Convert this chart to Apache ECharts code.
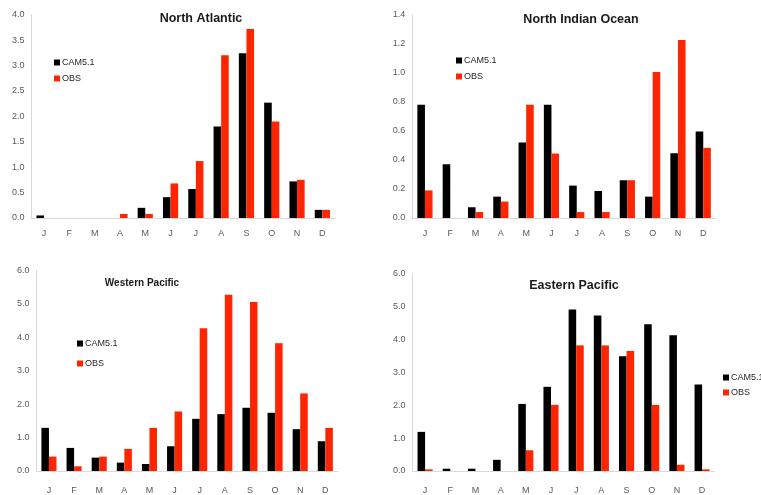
<!DOCTYPE html>
<html><head><meta charset="utf-8">
<script src="https://cdn.jsdelivr.net/npm/echarts@6/dist/echarts.min.js"></script>
<style>html,body{margin:0;padding:0;background:#fff}#c{width:761px;height:495px}</style>
</head><body><div id="c"></div>
<script>
const months = ['J','F','M','A','M','J','J','A','S','O','N','D'];
const seriesNames = ['CAM5.1','OBS'];
const panelTitles = ['North Atlantic','North Indian Ocean','Western Pacific','Eastern Pacific'];

const naCAM = [0.05,0,0,0,0.2,0.41,0.57,1.8,3.24,2.27,0.72,0.16];
const naOBS = [0,0,0,0.08,0.08,0.68,1.12,3.2,3.72,1.9,0.75,0.16];
const nioCAM = [0.78,0.37,0.074,0.147,0.52,0.78,0.223,0.186,0.26,0.147,0.446,0.595];
const nioOBS = [0.19,0,0.041,0.113,0.78,0.444,0.041,0.041,0.26,1.005,1.225,0.483];
const wpCAM = [1.29,0.69,0.40,0.25,0.21,0.74,1.56,1.70,1.89,1.74,1.25,0.89];
const wpOBS = [0.43,0.14,0.43,0.66,1.29,1.78,4.27,5.27,5.05,3.82,2.32,1.29];
const epCAM = [1.19,0.07,0.07,0.34,2.04,2.56,4.91,4.73,3.49,4.46,4.13,2.63];
const epOBS = [0.05,0,0,0,0.63,2.01,3.82,3.82,3.65,2.01,0.19,0.05];

const yMax = [4, 1.4, 6, 6];
const yInterval = [0.5, 0.2, 1, 1];

const panelData = [[naCAM,naOBS],[nioCAM,nioOBS],[wpCAM,wpOBS],[epCAM,epOBS]];
const grids = [
  {left:31.4, top:14.7, width:303.6, height:203.3},
  {left:412.3, top:14.7, width:303.6, height:203.3},
  {left:36.4, top:270.3, width:301.5, height:205.7},
  {left:412.5, top:273.7, width:302.2, height:202.3}
];
const labelMargin = [11, 11, 15, 15];
const FONT = 'Liberation Sans, Arial, sans-serif';
const colors = ['#000000', '#ff2500'];

const xAxis = [], yAxis = [], series = [];
grids.forEach((g, i) => {
  xAxis.push({type:'category', gridIndex:i, data:months,
    axisLine:{lineStyle:{color:'#d9d9d9', width:1}}, axisTick:{show:false},
    axisLabel:{color:'#595959', fontSize:9, fontFamily:FONT, margin:labelMargin[i]}});
  yAxis.push({type:'value', gridIndex:i, min:0, max:yMax[i], interval:yInterval[i],
    axisLine:{show:true, lineStyle:{color:'#d9d9d9', width:1}}, axisTick:{show:false},
    splitLine:{show:false},
    axisLabel:{color:'#595959', fontSize:9, fontFamily:FONT, margin:7, formatter:v=>v.toFixed(1)}});
  panelData[i].forEach((d, k) => {
    series.push({type:'bar', name:seriesNames[k], xAxisIndex:i, yAxisIndex:i, data:d,
      barGap:'0%', barCategoryGap:'40%', itemStyle:{color:colors[k]}, animation:false});
  });
});

const titlePos = [
  {x:196, y:7, size:12.5},
  {x:576, y:8, size:12.5},
  {x:137, y:273, size:10},
  {x:569, y:274, size:12.5}
];
const title = panelTitles.map((t, i) => ({text:t, left:titlePos[i].x, top:titlePos[i].y, textAlign:'center',
  textStyle:{fontSize:titlePos[i].size, fontWeight:'bold', color:'#1a1a1a', fontFamily:FONT}}));

const legPos = [
  {x:54, y:58, gap:7},
  {x:456, y:56, gap:7},
  {x:77, y:339, gap:11},
  {x:723, y:373, gap:6}
];
const legend = legPos.map(p => ({data:seriesNames, orient:'vertical', left:p.x, top:p.y, itemGap:p.gap,
  itemWidth:6, itemHeight:6, icon:'rect', selectedMode:false, padding:0,
  textStyle:{fontSize:9, color:'#262626', fontFamily:FONT, padding:[0,0,0,-3]}}));

const chart = echarts.init(document.getElementById('c'), null, {renderer:'canvas'});
chart.setOption({animation:false, color:colors, title, legend, grid:grids, xAxis, yAxis, series});
</script></body></html>
